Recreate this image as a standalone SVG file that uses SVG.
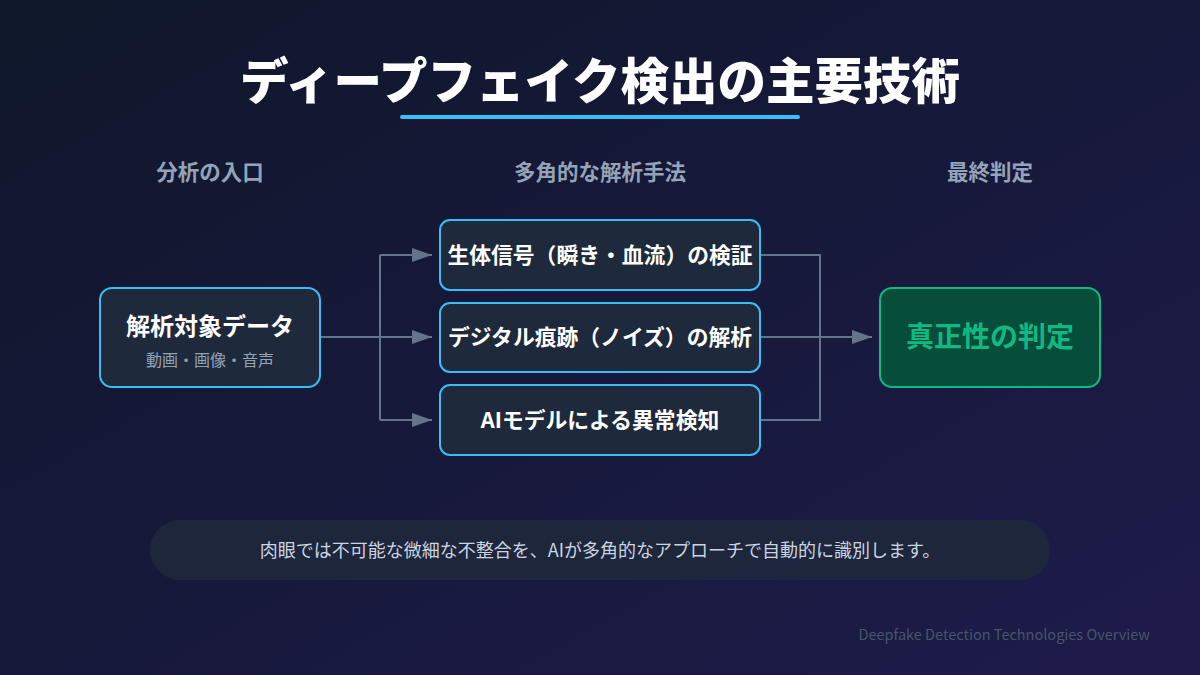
<svg xmlns="http://www.w3.org/2000/svg" width="1200" height="675" viewBox="0 0 1200 675">
<defs>
<linearGradient id="bg" x1="0" y1="0" x2="1" y2="1">
<stop offset="0" stop-color="#0f172a"/>
<stop offset="1" stop-color="#1e1b4b"/>
</linearGradient>
<marker id="arr" viewBox="0 0 20 14" refX="20" refY="7" markerWidth="20" markerHeight="14" markerUnits="userSpaceOnUse" orient="auto">
<path d="M0,0 L20,7 L0,14 z" fill="#64748b"/>
</marker>
<style>
text{font-family:"Noto Sans CJK JP","Noto Sans",sans-serif;text-anchor:middle}
.hdr{font-size:21.5px;font-weight:700;fill:#94a3b8}
.box{fill:#1e293b;stroke:#38bdf8;stroke-width:2}
.lbl{font-size:21.8px;font-weight:700;fill:#ffffff}
.con{fill:none;stroke:#64748b;stroke-width:2}
</style>
</defs>
<rect width="1200" height="675" fill="url(#bg)"/>
<text x="600" y="99" style="font-size:48.5px;font-weight:900;fill:#ffffff">ディープフェイク検出の主要技術</text>
<line x1="402" y1="117" x2="798" y2="117" stroke="#38bdf8" stroke-width="4" stroke-linecap="round"/>
<text class="hdr" x="210" y="180">分析の入口</text>
<text class="hdr" x="600" y="180">多角的な解析手法</text>
<text class="hdr" x="990" y="180">最終判定</text>
<g id="connectors">
<path class="con" d="M320,337 H380"/>
<path class="con" d="M380,255 V420"/>
<path class="con" d="M380,255 H432" marker-end="url(#arr)"/>
<path class="con" d="M380,337 H432" marker-end="url(#arr)"/>
<path class="con" d="M380,420 H432" marker-end="url(#arr)"/>
<path class="con" d="M760,255 H820 V420 H760"/>
<path class="con" d="M760,337 H872" marker-end="url(#arr)"/>
</g>
<g id="input">
<rect class="box" x="100" y="288" width="220" height="99" rx="12"/>
<text x="210" y="335" style="font-size:24px;font-weight:700;fill:#ffffff">解析対象データ</text>
<text x="210" y="366" style="font-size:16px;fill:#94a3b8">動画・画像・音声</text>
</g>
<g id="bio">
<rect class="box" x="440" y="220" width="320" height="70" rx="10"/>
<text class="lbl" x="600" y="263">生体信号（瞬き・血流）の検証</text>
</g>
<g id="digital">
<rect class="box" x="440" y="303" width="320" height="69" rx="10"/>
<text class="lbl" x="600" y="345">デジタル痕跡（ノイズ）の解析</text>
</g>
<g id="ai">
<rect class="box" x="440" y="385" width="320" height="70" rx="10"/>
<text class="lbl" x="600" y="428">AIモデルによる異常検知</text>
</g>
<g id="verdict">
<rect x="880" y="288" width="220" height="99" rx="12" fill="#064e3b" stroke="#10b981" stroke-width="2"/>
<text x="990" y="347" style="font-size:28px;font-weight:700;fill:#10b981">真正性の判定</text>
</g>
<g id="note">
<rect x="150" y="520" width="900" height="60" rx="30" fill="#1e293b" opacity="0.85"/>
<text x="600" y="557" style="font-size:18px;fill:#cbd5e1">肉眼では不可能な微細な不整合を、AIが多角的なアプローチで自動的に識別します。</text>
</g>
<text x="1150" y="640" style="font-size:14.5px;fill:#475569;text-anchor:end">Deepfake Detection Technologies Overview</text>
</svg>
